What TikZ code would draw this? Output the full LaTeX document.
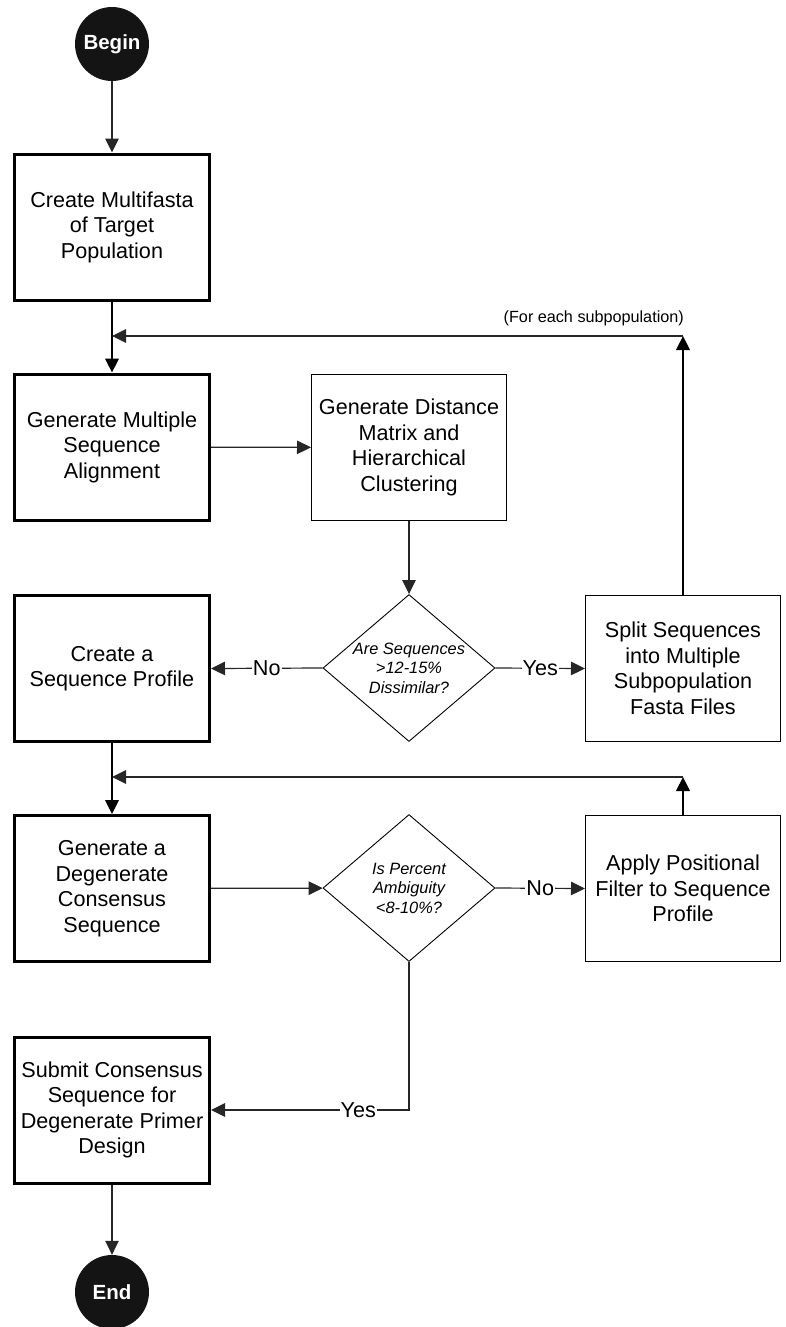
\documentclass[tikz,border=0pt]{standalone}
\usepackage{fontspec}
\setmainfont{Liberation Sans}
\usetikzlibrary{arrows.meta,shapes.geometric}
\begin{document}
\begin{tikzpicture}[x=1pt,y=-1pt,
  boxbase/.style={draw, minimum width=195pt, minimum height=146pt, align=center,
    inner sep=0pt, font=\fontsize{21.6}{25.5}\selectfont},
  thickbox/.style={boxbase, line width=3pt},
  thinbox/.style={boxbase, line width=1pt},
  dia/.style={draw, diamond, line width=0.9pt, minimum width=172pt, minimum height=147pt, inner sep=0pt},
  diatext/.style={align=center, font=\fontsize{16.4}{19.5}\selectfont\itshape},
  term/.style={circle, fill=black!92, minimum size=74pt, inner sep=0pt,
    text=white, font=\fontsize{20.5}{24}\selectfont\bfseries},
  arr/.style={line width=1.2pt, draw=black!85, -{Triangle[length=14pt,width=13.5pt]}},
  arrthick/.style={arr, line width=2.4pt, draw=black},
  lbl/.style={fill=white, inner sep=1pt, font=\fontsize{21.6}{25}\selectfont},
  note/.style={font=\fontsize{16.2}{19}\selectfont, inner sep=0pt}
]
\useasboundingbox (0,0) rectangle (785,1327);

\node[term] (begin) at (112,44) {Begin};
\node[thickbox] (multi) at (112,227) {Create Multifasta\\of Target\\Population};
\node[thickbox] (msa) at (112,447) {Generate Multiple\\Sequence\\Alignment};
\node[thinbox] (dist) at (409,447.5) {Generate Distance\\Matrix and\\Hierarchical\\Clustering};
\node[dia] (d1) at (409,668) {};
\node[diatext] (d1t) at (d1) {Are Sequences\\>12-15\%\\Dissimilar?};
\node[thickbox] (prof) at (112,668.5) {Create a\\Sequence Profile};
\node[thinbox] (split) at (683,668.5) {Split Sequences\\into Multiple\\Subpopulation\\Fasta Files};
\node[thickbox] (degen) at (112,888.5) {Generate a\\Degenerate\\Consensus\\Sequence};
\node[dia] (d2) at (409,888) {};
\node[diatext] (d2t) at (d2) {Is Percent\\Ambiguity\\<8-10\%?};
\node[thinbox] (apply) at (683,888.5) {Apply Positional\\Filter to Sequence\\Profile};
\node[thickbox] (submit) at (112,1110) {Submit Consensus\\Sequence for\\Degenerate Primer\\Design};
\node[term] (end) at (112,1292) {End};

\coordinate (j1) at (112,336);
\coordinate (c1) at (683,336);
\coordinate (j2) at (112,777);
\coordinate (c2) at (683,777);
\coordinate (cy) at (409,1110);

\node[note, anchor=east] (fe) at (684,318) {(For each subpopulation)};

\draw[arr] (begin) -- (multi);
\draw[arrthick] (multi) -- (msa);
\draw[arr] (msa) -- (dist);
\draw[arr] (dist) -- (d1);
\draw[arr] (d1.west) -- node[lbl]{No} (prof.east);
\draw[arr] (d1.east) -- node[lbl]{Yes} (split.west);
\draw[arrthick] (split.north) -- (c1);
\draw[arr] (c1) -- (j1);
\draw[arrthick] (prof) -- (degen);
\draw[arr] (degen) -- (d2);
\draw[arr] (d2.east) -- node[lbl]{No} (apply.west);
\draw[arrthick] (apply.north) -- (c2);
\draw[arr] (c2) -- (j2);
\draw[arr] (d2.south) -- (cy) -- node[lbl, pos=0.256]{Yes} (submit.east);
\draw[arr] (submit) -- (end);
\end{tikzpicture}
\end{document}
